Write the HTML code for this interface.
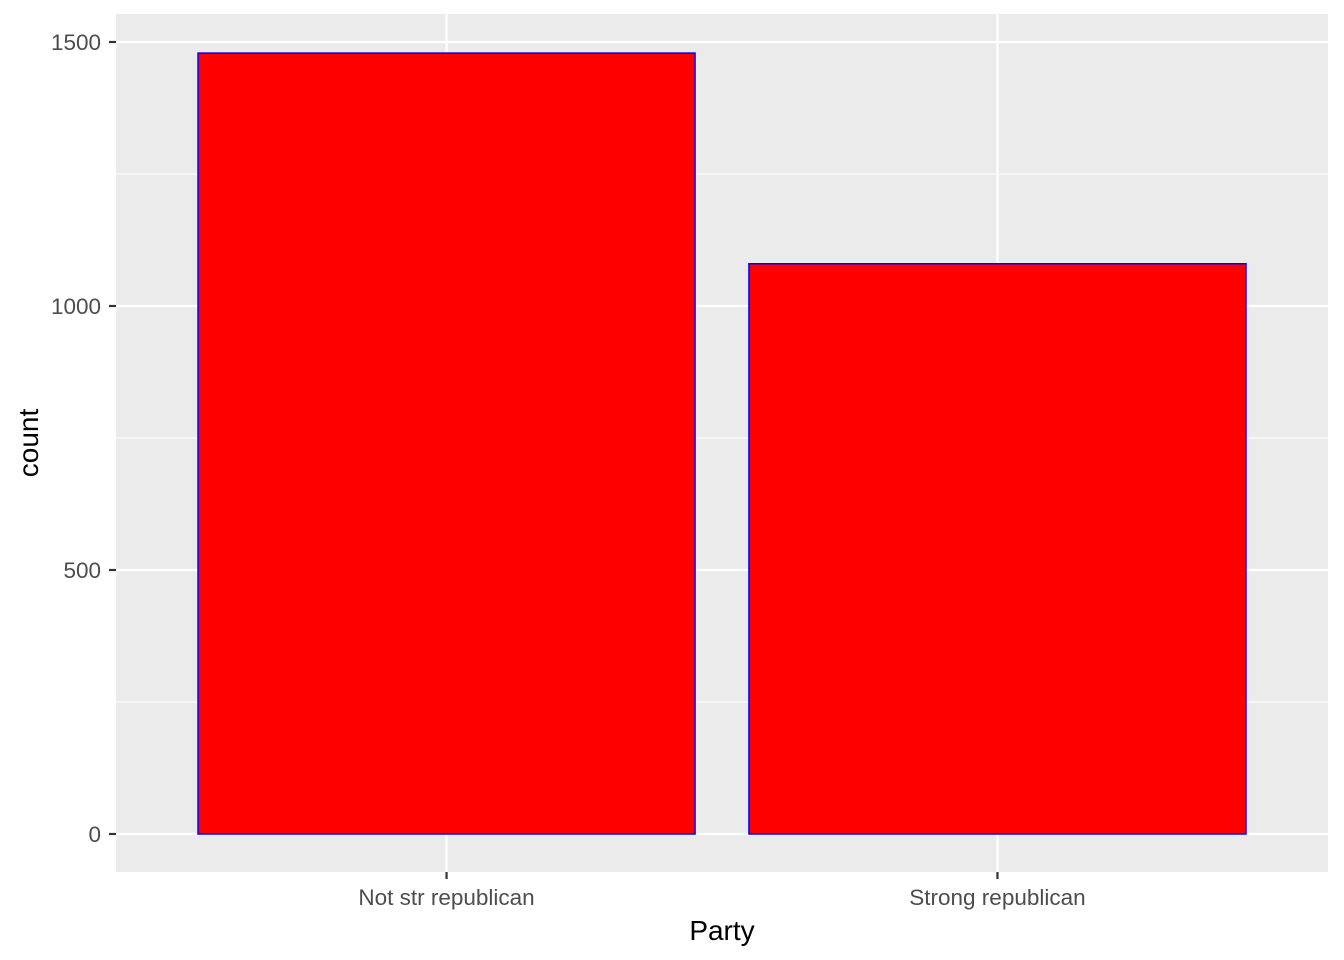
<!DOCTYPE html>
<html><head><meta charset="utf-8"><style>
html,body{margin:0;padding:0;background:#fff;}
svg{display:block;font-family:"Liberation Sans",Arial,sans-serif;}
</style></head><body>
<svg id="chart" width="1344" height="960" viewBox="0 0 1344 960" xmlns="http://www.w3.org/2000/svg">
<rect x="116" y="14" width="1212" height="858" fill="#EBEBEB"/>
<g id="grid"></g><g id="bars"></g><g id="axes"></g>
<text x="722" y="940" font-size="28" text-anchor="middle" fill="#000">Party</text>
<text transform="translate(38,443) rotate(-90)" font-size="28" text-anchor="middle" fill="#000">count</text>
</svg>
<script>
const categories = ["Not str republican", "Strong republican"];
const counts = [1479, 1080];
const yTicks = [0, 500, 1000, 1500];
const yMinor = [250, 750, 1250];

const NS = "http://www.w3.org/2000/svg";
const px0 = 116, px1 = 1328, py0 = 14, py1 = 872;
const y = v => 834 - v * 0.528;
const step = (px1 - px0) / (categories.length + 0.2);
const x = i => px0 + step * (0.6 + i);
const bw = 497;
function mk(tag, attrs, parent) {
  const e = document.createElementNS(NS, tag);
  for (const k in attrs) e.setAttribute(k, attrs[k]);
  parent.appendChild(e); return e;
}
const grid = document.getElementById('grid'), bars = document.getElementById('bars'), axes = document.getElementById('axes');
yMinor.forEach(v => {
  const l = mk('line', {x1: px0, x2: px1, y1: y(v), y2: y(v), stroke: '#fff', 'stroke-width': 1.1}, grid);
  
  
});
yTicks.forEach(v => {
  const l = mk('line', {x1: px0, x2: px1, y1: y(v), y2: y(v), stroke: '#fff', 'stroke-width': 2.2}, grid);
  
  
  const t = mk('line', {x1: 109, x2: 116, y1: y(v), y2: y(v), stroke: '#333', 'stroke-width': 2.2}, axes);
  
  
  const tx = mk('text', {x: 101, y: y(v) + 8, 'font-size': 22.5, 'text-anchor': 'end', fill: '#4D4D4D'}, axes);
  tx.textContent = v;
  
  
});
categories.forEach((c, i) => {
  const g = mk('line', {x1: x(i), x2: x(i), y1: py0, y2: py1, stroke: '#fff', 'stroke-width': 2.2}, grid);
  
  
  const r = mk('rect', {x: x(i) - bw / 2, y: y(counts[i]), width: bw, height: y(0) - y(counts[i]), fill: '#FF0000', stroke: '#0000FF', 'stroke-width': 1.5}, bars);
  
  
  const t = mk('line', {x1: x(i), x2: x(i), y1: 872, y2: 879, stroke: '#333', 'stroke-width': 2.2}, axes);
  
  
  const tx = mk('text', {x: x(i), y: 905, 'font-size': 22.5, 'text-anchor': 'middle', fill: '#4D4D4D'}, axes);
  tx.textContent = c;
  
  
});
</script>
</body></html>
